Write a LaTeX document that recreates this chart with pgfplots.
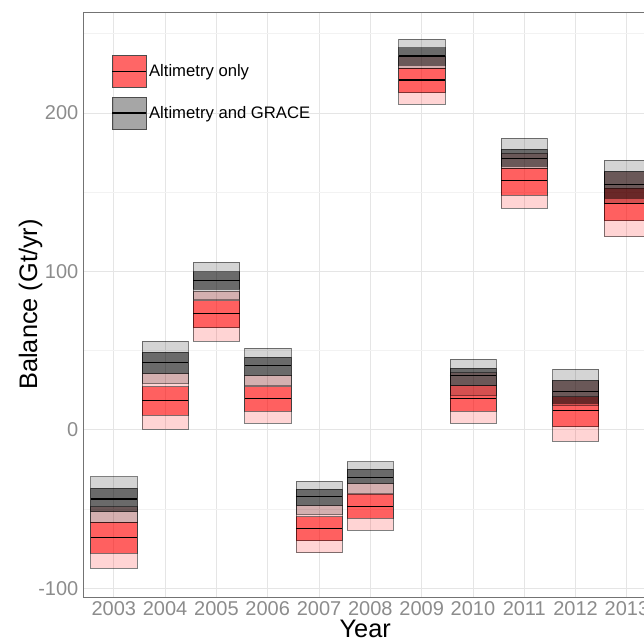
\documentclass[border=0pt]{standalone}
\usepackage{pgfplots}
\usepackage{pgfplotstable}
\pgfplotsset{compat=1.18}
\usepackage{fontspec}
\setmainfont{Liberation Sans}
\pgfplotstableread{
x q05 q25 med q75 q95
2003 -87.3 -77.8 -67.7 -58.3 -48.4
2004 0.6 9.5 18.5 27.3 35.8
2005 56.2 64.6 73.2 81.6 87.5
2006 4.2 12 20 27.3 34.7
2007 -77.4 -69.8 -62 -54.7 -47.7
2008 -63.1 -55.7 -48.4 -40.6 -33.6
2009 205.7 212.8 220.8 228.2 235.5
2010 4.2 12 20 28 36.2
2011 139.9 148.3 157.3 165.1 174.8
2012 -6.9 2.1 12 21 31.1
2013 122 132.1 143.1 152.5 163
}\redtab
\pgfplotstableread{
x q05 q25 med q75 q95
2003 -58 -51.5 -43.6 -36.7 -29.5
2004 29.4 35.8 42.7 49 56.1
2005 82.5 88.8 94.2 99.9 105.8
2006 28.4 34.7 40.6 45.9 51.5
2007 -53 -47.7 -42.1 -37.4 -32.2
2008 -40 -33.6 -30.1 -24.6 -20
2009 228.2 230.3 235.9 241.2 246.7
2010 22.1 28 34.1 38.9 44.8
2011 165.3 166.4 171.3 177.3 184
2012 15.5 16.8 24.2 31.1 38.3
2013 143 146.3 154.6 163 170.3
}\greytab
\newcommand\drawseries[3]{% table, outer style, inner style
  \pgfplotsforeachungrouped \i in {0,...,10}{%
    \pgfplotstablegetelem{\i}{x}\of#1\edef\xx{\pgfplotsretval}%
    \pgfplotstablegetelem{\i}{q05}\of#1\edef\qa{\pgfplotsretval}%
    \pgfplotstablegetelem{\i}{q25}\of#1\edef\qb{\pgfplotsretval}%
    \pgfplotstablegetelem{\i}{med}\of#1\edef\qc{\pgfplotsretval}%
    \pgfplotstablegetelem{\i}{q75}\of#1\edef\qd{\pgfplotsretval}%
    \pgfplotstablegetelem{\i}{q95}\of#1\edef\qe{\pgfplotsretval}%
    \pgfmathsetmacro\xl{\xx-0.45}\pgfmathsetmacro\xr{\xx+0.45}%
    \edef\tmp{\noexpand\addplot[#2] coordinates {(\xl,\qa) (\xr,\qa) (\xr,\qe) (\xl,\qe)} --cycle;
      \noexpand\addplot[#3] coordinates {(\xl,\qb) (\xr,\qb) (\xr,\qd) (\xl,\qd)} --cycle;
      \noexpand\addplot[black, line width=0.9pt] coordinates {(\xl,\qc) (\xr,\qc)};}%
    \tmp
  }%
}
\begin{document}
\begin{tikzpicture}
\begin{axis}[
  scale only axis, width=423.4pt, height=438.75pt,
  xmin=2002.4, xmax=2013.4, ymin=-105.4, ymax=263.7,
  xtick={2003,...,2013}, ytick={-100,0,100,200},
  minor ytick={-50,50,150,250},
  xticklabel style={/pgf/number format/1000 sep={}},
  /pgf/number format/assume math mode=true,
  tick label style={font=\fontsize{15}{18}\selectfont, text=black!45},
  tick style={draw=none},
  grid=both, major grid style={black!10, line width=0.6pt}, minor grid style={black!5, line width=0.5pt},
  axis line style={black!55, line width=0.6pt},
  xlabel={Year}, ylabel={Balance (Gt/yr)},
  label style={font=\fontsize{19}{22}\selectfont},
  xlabel style={yshift=4pt}, ylabel style={yshift=-10pt},
  legend style={at={(axis cs:2002.88,238.5)}, anchor=north west, draw=none, fill=none,
    font=\fontsize{12.5}{15}\selectfont, row sep=7pt},
  legend cell align=left,
]
\addlegendimage{legend image code/.code={\draw[black!70, fill=red, fill opacity=0.6] (0,-12pt) rectangle (25pt,12pt); \draw[black, line width=0.9pt] (0,0)--(25pt,0);}}
\addlegendentry{Altimetry only}
\addlegendimage{legend image code/.code={\draw[black!70, fill=black, fill opacity=0.35] (0,-12pt) rectangle (25pt,12pt); \draw[black, line width=0.9pt] (0,0)--(25pt,0);}}
\addlegendentry{Altimetry and GRACE}
\drawseries{\redtab}{draw=black, draw opacity=0.5, fill=red, fill opacity=0.17, forget plot}{draw=black, draw opacity=0.5, fill=red, fill opacity=0.55, forget plot}
\drawseries{\greytab}{draw=black, draw opacity=0.5, fill=black, fill opacity=0.17, forget plot}{draw=black, draw opacity=0.5, fill=black, fill opacity=0.5, forget plot}
\end{axis}
\pgfresetboundingbox
\path[use as bounding box] ([xshift=-62.25pt,yshift=-33.75pt]current axis.south west) rectangle ([xshift=-2.6pt,yshift=9pt]current axis.north east);
\end{tikzpicture}
\end{document}
